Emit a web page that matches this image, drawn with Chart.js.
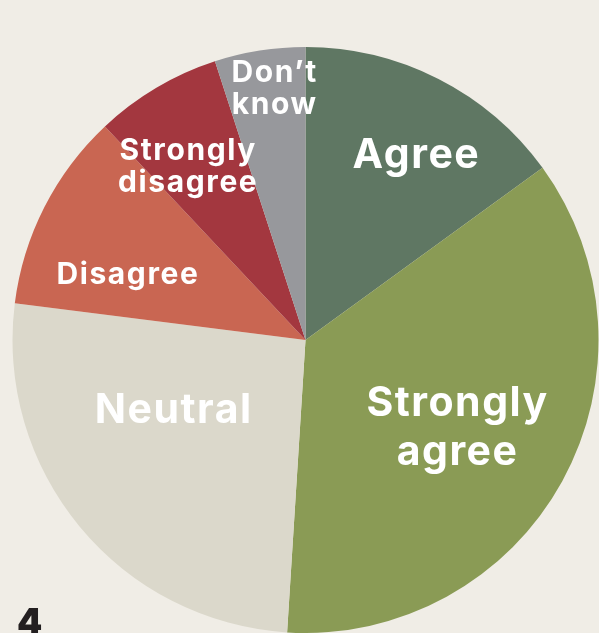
<!DOCTYPE html>
<html>
<head>
<meta charset="utf-8">
<script src="https://cdn.jsdelivr.net/npm/chart.js@4.4.1/dist/chart.umd.min.js"></script>
<style>
  html, body { margin: 0; padding: 0; background: #f0ede6; }
  #wrap { width: 599px; height: 633px; position: relative; }
</style>
</head>
<body>
<div id="wrap"><canvas id="pieChart"></canvas></div>
<script>
// answers, clockwise from 12 o'clock
const categories = ['Agree', 'Strongly agree', 'Neutral', 'Disagree', 'Strongly disagree', 'Don\u2019t know'];
const shares = [15, 36, 26, 11, 7, 5];
const sliceColors = ['#5f7763', '#8a9b55', '#dbd8cb', '#c96652', '#a3373f', '#97989c'];

// how each label is written (line breaks) and how big
const labelLines = [['Agree'], ['Strongly', 'agree'], ['Neutral'], ['Disagree'], ['Strongly', 'disagree'], ['Don\u2019t', 'know']];
const labelSize = [41, 41, 41, 30, 30, 30];
// label spot: degrees off the slice middle, fraction of the radius
const labelSpot = [[4, 0.735], [1.3, 0.6], [11.5, 0.51], [-7, 0.645], [-3.5, 0.714], [2, 0.864]];

const FONT = '"Inter", "Noto Sans", sans-serif';

// draws the white labels on the slices + the page number
const sliceLabels = {
  id: 'sliceLabels',
  afterDatasetsDraw(chart) {
    const ctx = chart.ctx;
    const arcs = chart.getDatasetMeta(0).data;
    ctx.save();
    ctx.fillStyle = '#ffffff';
    ctx.textAlign = 'center';
    ctx.textBaseline = 'middle';
    arcs.forEach((arc, i) => {
      const mid = (arc.startAngle + arc.endAngle) / 2 + labelSpot[i][0] * Math.PI / 180;
      const r = arc.outerRadius * labelSpot[i][1];
      const cx = arc.x + Math.cos(mid) * r;
      const cy = arc.y + Math.sin(mid) * r;
      const size = labelSize[i];
      const big = size > 35;
      const gap = size * (big ? 1.2 : 1.08);
      const lines = labelLines[i];
      ctx.font = `700 ${size}px ${FONT}`;
      ctx.letterSpacing = (big ? 1.5 : 1.6) + 'px';
      lines.forEach((line, j) => {
        ctx.fillText(line, cx, cy + (j - (lines.length - 1) / 2) * gap);
      });
    });
    // page number bottom left
    ctx.letterSpacing = '0px';
    ctx.fillStyle = '#231f20';
    ctx.textAlign = 'left';
    ctx.textBaseline = 'alphabetic';
    ctx.font = `900 36px ${FONT}`;
    ctx.fillText('4', 17, 634);
    ctx.restore();
  }
};

const ctx = document.getElementById('pieChart').getContext('2d');

const pieChart = new Chart(ctx, {
  type: 'pie',
  data: {
    labels: categories,
    datasets: [{
      data: shares,
      backgroundColor: sliceColors,
      borderWidth: 0
    }]
  },
  options: {
    responsive: true,
    maintainAspectRatio: false,
    animation: false,
    layout: { padding: { left: 12, top: 47, right: 0, bottom: 0 } },
    plugins: {
      legend: { display: false },
      tooltip: { enabled: false }
    }
  },
  plugins: [sliceLabels]
});
</script>
</body>
</html>
